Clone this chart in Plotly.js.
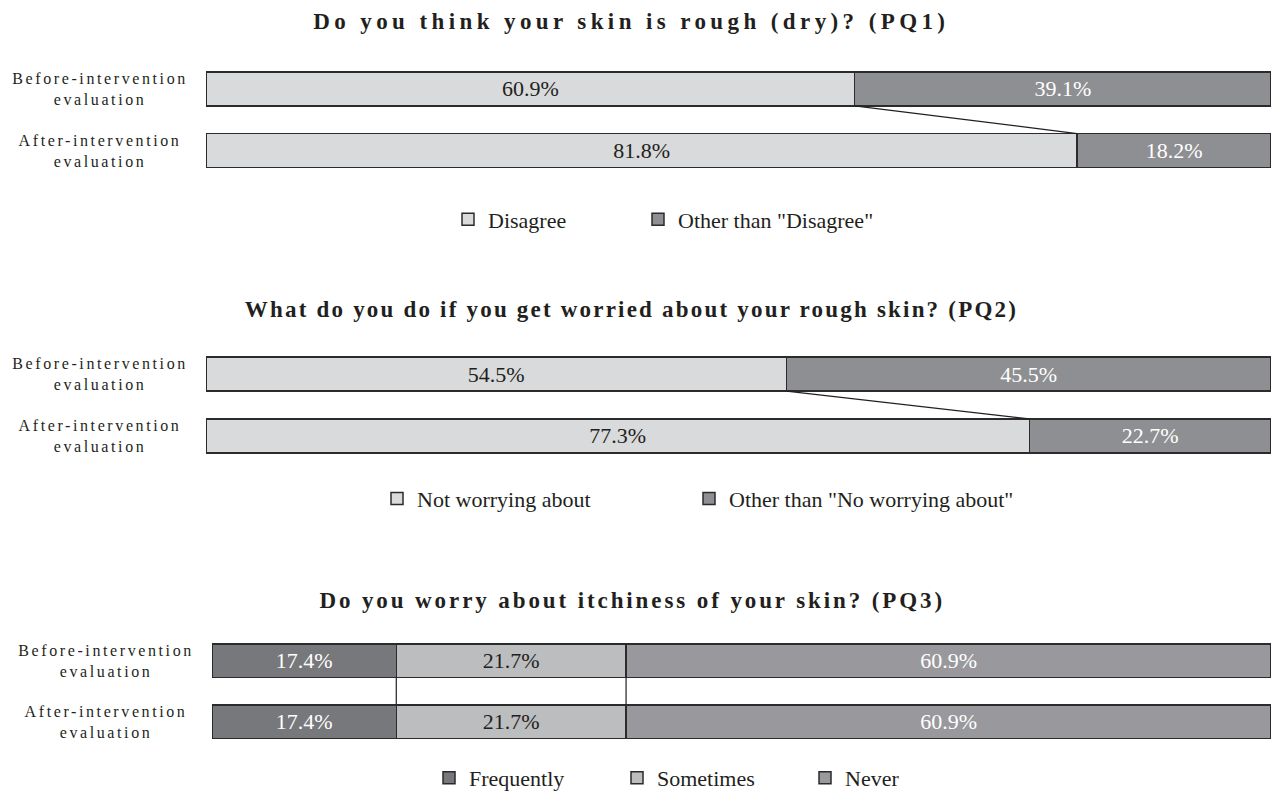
<!DOCTYPE html>
<html><head><meta charset="utf-8">
<script src="https://cdn.plot.ly/plotly-3.0.1.min.js"></script>
<style>body{margin:0;background:#fff}</style>
</head><body><div id="chart" style="width:1271px;height:799px"></div>
<script>
// ---- data ----
const groupLabels = ["Before-intervention<br>evaluation", "After-intervention<br>evaluation"];

const pq1Title = "Do you think your skin is rough (dry)? (PQ1)";
const pq1Series = ["Disagree", "Other than \"Disagree\""];
const pq1Before = [60.9, 39.1];
const pq1After = [81.8, 18.2];

const pq2Title = "What do you do if you get worried about your rough skin? (PQ2)";
const pq2Series = ["Not worrying about", "Other than \"No worrying about\""];
const pq2Before = [54.5, 45.5];
const pq2After = [77.3, 22.7];

const pq3Title = "Do you worry about itchiness of your skin? (PQ3)";
const pq3Series = ["Frequently", "Sometimes", "Never"];
const pq3Before = [17.4, 21.7, 60.9];
const pq3After = [17.4, 21.7, 60.9];

// ---- styles ----
const INK = '#231f20';
const SERIF = 'Liberation Serif, Times New Roman, serif';
const panels = [
  {title: pq1Title, series: pq1Series, before: pq1Before, after: pq1After,
   colors: ['#d9dadb', '#8e8f92'], textColors: [INK, '#ffffff'],
   xdom: [206/1271, 1], ydom: [1-182/799, 1-58/799], titleY: 1-22/799, titleLS: 4.4,
   labelX: 100/1271,
   legend: {x: 448/1271, y: 1-220/799, widths: [145, 260]}},
  {title: pq2Title, series: pq2Series, before: pq2Before, after: pq2After,
   colors: ['#d9dadb', '#8e8f92'], textColors: [INK, '#ffffff'],
   xdom: [206/1271, 1], ydom: [1-468/799, 1-344/799], titleY: 1-310/799, titleLS: 2.2,
   labelX: 100/1271,
   legend: {x: 377/1271, y: 1-500/799, widths: [267, 330]}},
  {title: pq3Title, series: pq3Series, before: pq3Before, after: pq3After,
   colors: ['#77787b', '#bcbdbf', '#99999d'], textColors: ['#ffffff', INK, '#ffffff'],
   xdom: [212/1271, 1], ydom: [1-754/799, 1-632/799], titleY: 1-602/799, titleLS: 2.9,
   labelX: 106/1271,
   legend: {x: 429/1271, y: 1-780/799, widths: [143, 143, 100]}}
];
const BARW = 0.55;

const traces = [];
const layout = {
  width: 1271, height: 799,
  margin: {l: 0, r: 0, t: 0, b: 0},
  paper_bgcolor: '#ffffff', plot_bgcolor: 'rgba(0,0,0,0)',
  barmode: 'stack', showlegend: true,
  font: {family: SERIF, color: INK},
  annotations: []
};

panels.forEach((p, pi) => {
  const sfx = pi === 0 ? '' : String(pi + 1);
  const xa = 'x' + sfx, ya = 'y' + sfx;
  const legendId = 'legend' + sfx;
  p.series.forEach((name, si) => {
    traces.push({
      type: 'bar', orientation: 'h', name: name,
      x: [p.before[si], p.after[si]], y: [1, 0],
      xaxis: xa, yaxis: ya, legend: legendId, legendwidth: p.legend.widths[si],
      width: BARW, cliponaxis: false,
      marker: {color: p.colors[si], line: {color: '#2b2b2b', width: 1.5}},
      texttemplate: '%{x:.1f}%', textposition: 'inside', insidetextanchor: 'middle',
      constraintext: 'none',
      textfont: {family: SERIF, size: 22, color: p.textColors[si]},
      hoverinfo: 'name+x'
    });
  });
  // connector lines between internal boundaries
  let cb = 0, ca = 0;
  for (let k = 0; k < p.series.length - 1; k++) {
    cb += p.before[k]; ca += p.after[k];
    traces.push({
      type: 'scatter', mode: 'lines', showlegend: false, hoverinfo: 'skip',
      x: [cb, ca], y: [1 - BARW/2, BARW/2],
      xaxis: xa, yaxis: ya, cliponaxis: false,
      line: {color: INK, width: 1.2}
    });
  }
  layout['xaxis' + sfx] = {domain: p.xdom, range: [0, 100], visible: false, fixedrange: true, anchor: ya};
  layout['yaxis' + sfx] = {domain: p.ydom, range: [-0.5, 1.5], visible: false, fixedrange: true, anchor: xa};
  layout[legendId] = {
    orientation: 'h', x: p.legend.x, xanchor: 'left', y: p.legend.y, yanchor: 'middle',
    traceorder: 'normal', bgcolor: 'rgba(0,0,0,0)',
    font: {family: SERIF, size: 22, color: INK}
  };
  layout.annotations.push({
    text: p.title, xref: 'paper', yref: 'paper', x: 0.497, y: p.titleY,
    xanchor: 'center', yanchor: 'middle', showarrow: false,
    font: {family: SERIF, size: 23, weight: 700, color: INK}
  });
});
panels.forEach((p, pi) => {
  const sfx = pi === 0 ? '' : String(pi + 1);
  groupLabels.forEach((g, gi) => {
    layout.annotations.push({
      text: g, xref: 'paper', yref: 'y' + sfx, x: p.labelX, y: 1 - gi,
      xanchor: 'center', yanchor: 'middle', align: 'center', showarrow: false,
      font: {family: SERIF, size: 16, color: INK}
    });
  });
});

Plotly.newPlot('chart', traces, layout, {displayModeBar: false, staticPlot: true}).then(() => {
  document.querySelectorAll('g.annotation').forEach(g => {
    const i = +g.getAttribute('data-index');
    const t = g.querySelector('text');
    if (t) t.style.letterSpacing = i < 3 ? panels[i].titleLS + 'px' : '2.6px';
  });
});
</script></body></html>
